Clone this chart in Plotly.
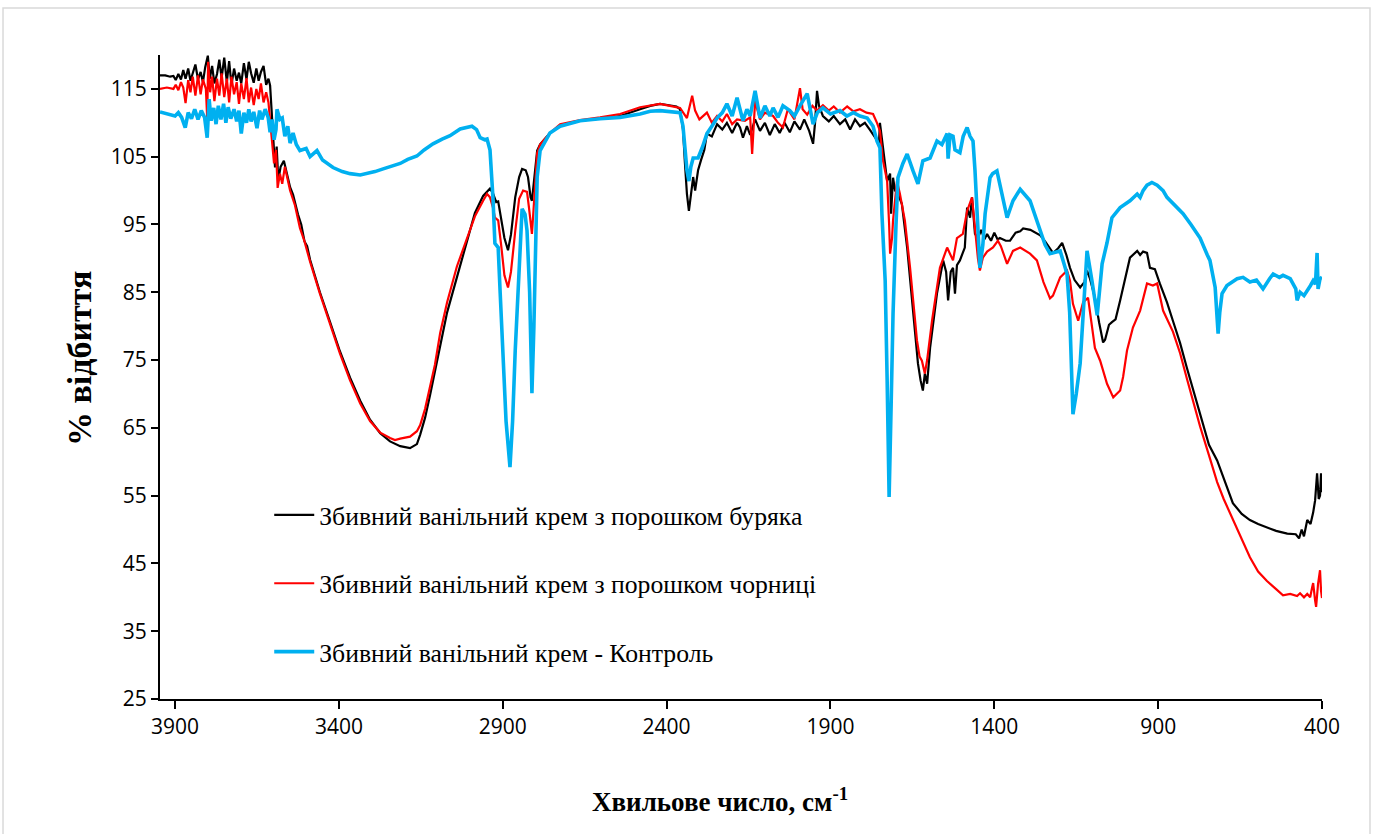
import plotly.graph_objects as go

# ---------------- data (wavenumber cm-1, % reflectance) ----------------
series_names = [
    "Збивний ванільний крем з порошком буряка",
    "Збивний ванільний крем з порошком чорниці",
    "Збивний ванільний крем - Контроль",
]

beet_points = [
    (3946, 117.0), (3930, 117.0), (3915, 116.8), (3905, 116.9), (3898, 116.3), (3890, 117.2),
    (3882, 116.4), (3875, 117.8), (3868, 116.5), (3860, 118.0), (3853, 116.2), (3846, 117.3),
    (3838, 118.6), (3830, 116.4), (3822, 117.5), (3815, 116.0), (3808, 118.2), (3800, 119.9),
    (3794, 116.5), (3787, 118.4), (3780, 115.8), (3772, 117.2), (3765, 119.3), (3758, 116.6),
    (3750, 119.6), (3742, 116.0), (3735, 119.1), (3728, 115.6), (3720, 118.0), (3712, 116.2),
    (3705, 117.4), (3698, 115.8), (3690, 118.8), (3682, 116.4), (3675, 119.0), (3668, 117.3),
    (3660, 115.9), (3652, 118.0), (3645, 116.2), (3638, 117.5), (3630, 118.4), (3622, 115.6),
    (3615, 116.5), (3610, 115.5), (3604, 110.0), (3600, 106.0), (3595, 103.4), (3590, 106.5),
    (3585, 101.5), (3578, 103.5), (3568, 104.4), (3549, 100.5), (3540, 99.4), (3525, 96.5),
    (3515, 95.0), (3505, 92.5), (3497, 91.8), (3488, 89.8), (3458, 85.0), (3427, 80.6),
    (3397, 76.3), (3366, 72.4), (3335, 69.0), (3305, 66.2), (3274, 64.2), (3244, 63.0),
    (3213, 62.3), (3183, 62.0), (3162, 62.6), (3152, 64.0), (3137, 66.5), (3122, 69.8),
    (3107, 73.2), (3091, 76.8), (3070, 82.0), (3040, 87.2), (3009, 92.6), (2985, 96.7),
    (2960, 99.2), (2945, 100.0), (2939, 100.3), (2930, 99.6), (2920, 98.3), (2914, 98.4),
    (2905, 96.0), (2895, 93.0), (2884, 91.2), (2875, 93.5), (2862, 99.0), (2850, 102.0),
    (2841, 103.2), (2830, 103.0), (2823, 102.0), (2815, 99.0), (2811, 98.5), (2805, 101.5),
    (2795, 105.9), (2786, 106.8), (2756, 108.5), (2725, 109.5), (2690, 110.0), (2664, 110.3),
    (2603, 110.6), (2542, 111.0), (2481, 112.0), (2450, 112.5), (2420, 112.8), (2390, 112.6),
    (2370, 112.4), (2359, 112.0), (2350, 109.0), (2344, 104.0), (2338, 99.5), (2332, 97.0),
    (2326, 99.5), (2319, 102.0), (2313, 100.0), (2304, 103.0), (2295, 104.5), (2285, 106.0),
    (2277, 108.4), (2262, 108.0), (2246, 109.8), (2230, 109.0), (2216, 110.0), (2200, 108.5),
    (2185, 110.0), (2176, 109.3), (2167, 107.8), (2155, 109.5), (2145, 108.2), (2130, 110.5),
    (2115, 108.8), (2100, 110.0), (2085, 108.2), (2070, 109.8), (2055, 108.5), (2040, 110.0),
    (2024, 108.6), (2010, 110.2), (1993, 109.0), (1980, 110.5), (1965, 108.8), (1953, 106.9),
    (1947, 110.0), (1941, 114.7), (1935, 112.5), (1923, 111.0), (1905, 110.2), (1890, 111.0),
    (1871, 109.8), (1855, 110.5), (1840, 109.0), (1825, 110.5), (1810, 109.5), (1795, 110.0),
    (1780, 109.0), (1765, 108.0), (1752, 107.0), (1749, 110.0), (1740, 106.3), (1727, 101.4),
    (1718, 102.5), (1715, 96.6), (1709, 101.9), (1703, 100.0), (1694, 99.5), (1682, 98.0),
    (1666, 91.6), (1648, 81.9), (1633, 74.5), (1625, 72.0), (1618, 70.5), (1612, 73.0),
    (1605, 71.5), (1596, 76.8), (1575, 84.8), (1556, 89.7), (1547, 88.0), (1541, 83.8),
    (1533, 88.0), (1526, 88.6), (1520, 84.8), (1514, 89.0), (1505, 89.7), (1490, 91.6),
    (1483, 97.5), (1474, 96.0), (1468, 99.0), (1459, 93.6), (1450, 93.0), (1440, 94.2),
    (1430, 92.8), (1422, 93.6), (1410, 92.6), (1400, 93.8), (1390, 92.8), (1383, 93.0),
    (1365, 92.6), (1352, 92.6), (1335, 93.8), (1321, 94.0), (1312, 94.4), (1290, 94.2),
    (1270, 93.6), (1260, 93.4), (1245, 92.5), (1230, 91.4), (1221, 90.8), (1205, 91.5),
    (1193, 92.3), (1180, 90.5), (1169, 88.6), (1155, 86.8), (1138, 85.7), (1125, 86.5),
    (1117, 88.2), (1108, 87.0), (1093, 84.2), (1080, 80.5), (1068, 77.6), (1062, 78.0),
    (1050, 80.2), (1041, 80.6), (1030, 81.0), (1016, 83.8), (1000, 87.0), (986, 90.1),
    (964, 91.1), (955, 90.5), (946, 91.0), (934, 90.8), (925, 88.6), (916, 88.5),
    (910, 88.4), (895, 86.3), (873, 83.5), (855, 80.8), (833, 77.5), (812, 73.8),
    (790, 70.0), (772, 66.8), (745, 62.5), (720, 60.2), (700, 57.5), (672, 53.9),
    (645, 52.3), (620, 51.4), (595, 50.8), (568, 50.3), (540, 49.8), (506, 49.4),
    (480, 49.3), (470, 48.7), (462, 50.0), (455, 49.0), (445, 51.4), (435, 50.8),
    (427, 52.5), (421, 54.3), (415, 58.3), (410, 54.5), (406, 55.0), (403, 58.3), (400, 55.5),
]

blueberry_points = [
    (3946, 115.0), (3925, 115.2), (3905, 115.0), (3898, 115.6), (3890, 114.8), (3882, 116.0),
    (3875, 115.2), (3868, 112.9), (3860, 116.3), (3853, 114.5), (3846, 116.8), (3838, 114.0),
    (3830, 117.0), (3822, 114.2), (3815, 116.4), (3806, 115.0), (3802, 110.7), (3799, 119.0),
    (3793, 114.5), (3787, 116.8), (3780, 113.2), (3772, 116.5), (3765, 114.0), (3758, 117.3),
    (3750, 113.8), (3742, 116.5), (3735, 113.0), (3728, 116.8), (3720, 114.2), (3712, 116.0),
    (3705, 112.8), (3698, 115.8), (3690, 113.5), (3682, 116.6), (3675, 113.0), (3668, 115.2),
    (3660, 112.6), (3652, 115.0), (3645, 113.5), (3638, 115.8), (3630, 113.0), (3622, 114.5),
    (3615, 113.0), (3610, 110.0), (3604, 107.3), (3598, 104.0), (3592, 106.0), (3587, 100.4),
    (3580, 102.5), (3573, 101.0), (3565, 103.5), (3549, 100.0), (3534, 97.8), (3519, 94.5),
    (3505, 92.5), (3488, 89.5), (3458, 84.8), (3427, 80.4), (3397, 76.0), (3366, 72.0),
    (3335, 68.6), (3305, 66.0), (3274, 64.3), (3244, 63.5), (3229, 63.2), (3213, 63.4),
    (3183, 63.7), (3162, 64.5), (3152, 65.4), (3137, 67.8), (3122, 71.0), (3107, 74.3),
    (3091, 79.0), (3070, 83.5), (3040, 88.8), (3009, 93.0), (2985, 96.2), (2960, 98.5),
    (2948, 99.5), (2939, 99.0), (2930, 97.5), (2924, 96.0), (2914, 95.6), (2905, 92.0),
    (2895, 87.5), (2884, 85.7), (2875, 88.0), (2862, 94.0), (2850, 98.8), (2838, 100.0),
    (2826, 99.8), (2820, 97.5), (2811, 93.6), (2805, 98.0), (2795, 105.5), (2786, 106.8),
    (2756, 108.5), (2725, 109.8), (2664, 110.4), (2603, 110.8), (2542, 111.3), (2481, 112.3),
    (2450, 112.6), (2420, 112.8), (2390, 112.5), (2359, 112.2), (2338, 110.7), (2322, 114.0),
    (2313, 111.8), (2300, 110.5), (2277, 111.5), (2262, 110.0), (2246, 111.0), (2230, 110.2),
    (2216, 111.3), (2200, 109.8), (2185, 110.5), (2161, 110.3), (2145, 110.8), (2139, 105.4),
    (2130, 113.2), (2115, 110.5), (2100, 111.5), (2075, 111.0), (2060, 110.0), (2045, 109.3),
    (2030, 112.0), (2010, 110.5), (1993, 115.1), (1985, 112.0), (1971, 111.2), (1955, 112.5),
    (1941, 111.8), (1923, 112.6), (1905, 111.8), (1890, 112.4), (1871, 111.5), (1849, 112.4),
    (1830, 111.7), (1810, 112.0), (1790, 111.5), (1770, 111.3), (1758, 110.0), (1749, 108.8),
    (1740, 104.5), (1727, 101.4), (1721, 95.0), (1718, 90.7), (1712, 93.0), (1709, 95.6),
    (1697, 101.4), (1688, 99.5), (1673, 95.6), (1657, 88.6), (1636, 77.9), (1628, 75.5),
    (1621, 74.9), (1612, 73.0), (1605, 75.0), (1590, 80.8), (1566, 88.6), (1544, 91.6),
    (1526, 89.7), (1514, 93.0), (1496, 93.6), (1483, 97.0), (1468, 99.0), (1459, 94.5),
    (1450, 90.0), (1444, 88.2), (1435, 90.1), (1422, 91.0), (1404, 91.6), (1389, 92.6),
    (1380, 91.8), (1361, 89.2), (1343, 91.1), (1321, 91.6), (1291, 90.7), (1270, 89.7),
    (1250, 86.5), (1230, 84.1), (1221, 84.5), (1199, 87.2), (1178, 88.2), (1169, 86.7),
    (1160, 83.3), (1144, 80.8), (1129, 83.5), (1114, 84.2), (1098, 78.5), (1093, 76.8),
    (1077, 74.9), (1056, 71.5), (1037, 69.5), (1016, 70.5), (1007, 72.5), (995, 76.4),
    (977, 79.8), (955, 82.3), (934, 86.3), (916, 86.0), (903, 86.3), (885, 82.3),
    (855, 79.2), (833, 76.0), (812, 72.2), (790, 68.2), (772, 65.2), (742, 60.5),
    (720, 57.0), (700, 54.5), (672, 51.4), (645, 48.5), (620, 45.9), (595, 43.8),
    (568, 42.4), (540, 41.2), (519, 40.3), (497, 40.5), (476, 40.2), (467, 40.6),
    (455, 40.0), (445, 40.5), (436, 40.0), (430, 41.5), (427, 42.1), (421, 39.5),
    (418, 38.6), (412, 42.0), (406, 44.0), (403, 41.0), (400, 39.9),
]

control_points = [
    (3946, 111.6), (3930, 111.4), (3915, 111.2), (3900, 111.0), (3890, 111.5), (3880, 110.8),
    (3869, 109.3), (3860, 111.5), (3850, 110.6), (3840, 112.0), (3830, 110.5), (3820, 111.8),
    (3810, 110.8), (3802, 107.8), (3796, 113.5), (3790, 110.3), (3782, 112.2), (3775, 109.8),
    (3768, 112.5), (3760, 110.5), (3752, 112.8), (3745, 110.0), (3738, 112.3), (3730, 110.6),
    (3720, 112.0), (3712, 110.2), (3705, 111.8), (3698, 108.4), (3690, 111.5), (3682, 110.0),
    (3675, 112.0), (3668, 110.2), (3660, 111.6), (3650, 109.2), (3642, 111.8), (3635, 110.5),
    (3625, 112.0), (3616, 110.8), (3610, 108.6), (3604, 110.5), (3598, 107.5), (3592, 109.0),
    (3589, 112.0), (3580, 110.5), (3573, 110.7), (3565, 108.0), (3556, 109.5), (3549, 107.0),
    (3540, 108.5), (3530, 106.8), (3519, 105.9), (3500, 106.2), (3488, 105.0), (3467, 105.9),
    (3450, 104.5), (3418, 103.4), (3390, 102.8), (3366, 102.5), (3335, 102.3), (3314, 102.5),
    (3290, 102.8), (3265, 103.2), (3240, 103.6), (3213, 104.0), (3190, 104.6), (3162, 105.1),
    (3140, 106.0), (3113, 106.9), (3085, 107.6), (3061, 108.1), (3030, 109.1), (3010, 109.3),
    (2994, 109.5), (2980, 109.0), (2969, 107.8), (2955, 107.5), (2948, 107.6), (2939, 106.0),
    (2930, 99.0), (2924, 92.2), (2914, 91.6), (2908, 85.0), (2899, 76.4), (2890, 66.0),
    (2878, 59.2), (2870, 66.0), (2862, 76.4), (2850, 90.0), (2841, 97.3), (2832, 96.5),
    (2826, 94.1), (2818, 85.0), (2811, 70.1), (2805, 80.0), (2801, 91.1), (2795, 102.0),
    (2786, 105.9), (2756, 108.5), (2725, 109.5), (2664, 110.3), (2603, 110.6), (2542, 110.8),
    (2481, 111.3), (2450, 111.7), (2420, 111.8), (2390, 111.6), (2370, 111.6), (2359, 111.5),
    (2350, 109.5), (2344, 106.3), (2338, 103.0), (2332, 101.4), (2326, 103.5), (2319, 104.8),
    (2304, 104.8), (2290, 106.5), (2277, 108.4), (2262, 109.5), (2246, 110.7), (2230, 111.5),
    (2216, 112.8), (2200, 111.0), (2185, 113.7), (2167, 110.3), (2155, 112.0), (2145, 111.0),
    (2130, 114.7), (2115, 110.7), (2100, 112.5), (2085, 111.0), (2075, 112.2), (2060, 110.8),
    (2045, 112.5), (2024, 111.8), (2010, 111.0), (1993, 112.5), (1971, 114.3), (1953, 109.8),
    (1940, 111.5), (1923, 112.2), (1900, 111.3), (1871, 111.8), (1850, 111.0), (1830, 111.5),
    (1810, 111.0), (1788, 110.7), (1770, 109.5), (1758, 107.3), (1749, 106.3), (1743, 96.6),
    (1733, 86.7), (1727, 72.0), (1721, 54.8), (1715, 68.0), (1709, 81.9), (1700, 95.0),
    (1694, 101.9), (1679, 104.0), (1666, 105.4), (1648, 102.9), (1633, 101.0), (1618, 104.4),
    (1596, 104.8), (1575, 107.3), (1560, 106.8), (1544, 108.4), (1541, 104.7), (1535, 108.2),
    (1526, 108.0), (1520, 106.0), (1505, 105.6), (1495, 108.0), (1483, 109.3), (1474, 108.0),
    (1465, 107.3), (1459, 103.0), (1453, 96.6), (1444, 88.6), (1435, 92.0), (1428, 96.6),
    (1413, 101.9), (1405, 102.5), (1392, 102.9), (1380, 100.0), (1361, 96.0), (1343, 98.5),
    (1321, 100.2), (1291, 98.5), (1270, 95.6), (1245, 92.0), (1230, 90.7), (1199, 91.1),
    (1178, 87.7), (1170, 82.0), (1160, 67.0), (1150, 70.0), (1138, 74.5), (1125, 84.0),
    (1117, 91.1), (1102, 86.7), (1086, 81.6), (1071, 89.2), (1056, 92.3), (1041, 96.0),
    (1016, 97.5), (986, 98.5), (964, 99.5), (955, 99.0), (946, 100.0), (934, 100.8),
    (919, 101.2), (903, 100.8), (885, 100.0), (873, 99.0), (855, 98.1), (824, 96.6),
    (800, 95.0), (772, 93.0), (750, 90.5), (742, 89.7), (726, 85.7), (720, 81.0),
    (717, 78.9), (712, 82.0), (705, 84.8), (690, 86.0), (659, 87.0), (641, 87.2),
    (620, 86.5), (600, 86.8), (580, 85.5), (560, 87.0), (549, 87.7), (530, 87.2),
    (519, 87.5), (497, 87.0), (480, 85.5), (476, 83.8), (467, 85.0), (455, 84.5),
    (445, 85.2), (435, 86.0), (427, 86.7), (420, 86.2), (415, 90.8), (412, 85.5),
    (406, 87.0), (400, 87.2),
]

x_ticks = [3900, 3400, 2900, 2400, 1900, 1400, 900, 400]
y_ticks = [25, 35, 45, 55, 65, 75, 85, 95, 105, 115]

# ---------------- figure ----------------
styles = [("#000000", 2.2), ("#FF0000", 2.2), ("#00B0F0", 3.6)]
fig = go.Figure()
for i, (pts, name) in enumerate(zip([beet_points, blueberry_points, control_points], series_names)):
    xs = [p[0] for p in pts]
    ys = [p[1] for p in pts]
    color, width = styles[i]
    fig.add_trace(go.Scatter(
        x=xs, y=ys, mode="lines", name=name, legendgroup=f"g{i}",
        line=dict(color=color, width=width),
    ))

axis_font = dict(family="Open Sans, Liberation Sans, sans-serif", size=21, color="#000000")
fig.update_xaxes(
    range=[3946, 400], tickvals=x_ticks, ticks="outside", ticklen=8, tickwidth=2,
    tickcolor="#000000", showline=True, linecolor="#000000", linewidth=2,
    showgrid=False, zeroline=False, tickfont=axis_font,
)
fig.update_yaxes(
    range=[25, 120], tickvals=y_ticks, ticks="outside", ticklen=7, tickwidth=2,
    tickcolor="#000000", showline=True, linecolor="#000000", linewidth=2,
    showgrid=False, zeroline=False, tickfont=axis_font,
)

serif = "Liberation Serif, Times New Roman, serif"
fig.add_annotation(text="<b>% відбиття</b>", xref="paper", yref="paper",
                   x=-0.0688, y=0.528, textangle=-90, showarrow=False,
                   font=dict(family=serif, size=34, color="#000000"),
                   xanchor="center", yanchor="middle")
fig.add_annotation(text="<b>Хвильове число, см<sup>-1</sup></b>", xref="paper", yref="paper",
                   x=0.482, y=-0.157, showarrow=False,
                   font=dict(family=serif, size=27, color="#000000"),
                   xanchor="center", yanchor="middle")

# light chart border
fig.add_shape(type="rect", xref="paper", yref="paper", x0=-0.1351, x1=1.0413, y0=-0.25, y1=1.073,
              line=dict(color="#D9D9D9", width=1.5), fillcolor="rgba(0,0,0,0)", layer="below")

fig.update_layout(
    width=1376, height=834,
    margin=dict(l=160, r=54, t=55, b=135),
    paper_bgcolor="#FFFFFF", plot_bgcolor="#FFFFFF",
    showlegend=True,
    legend=dict(
        x=0.094, y=0.322, xanchor="left", yanchor="top",
        bgcolor="rgba(0,0,0,0)", borderwidth=0,
        font=dict(family=serif, size=25.7, color="#000000"),
        tracegroupgap=32, itemwidth=40,
    ),
)

fig.write_html("out.html", config={"displayModeBar": False},
               post_script="document.body.style.margin='0px';")
